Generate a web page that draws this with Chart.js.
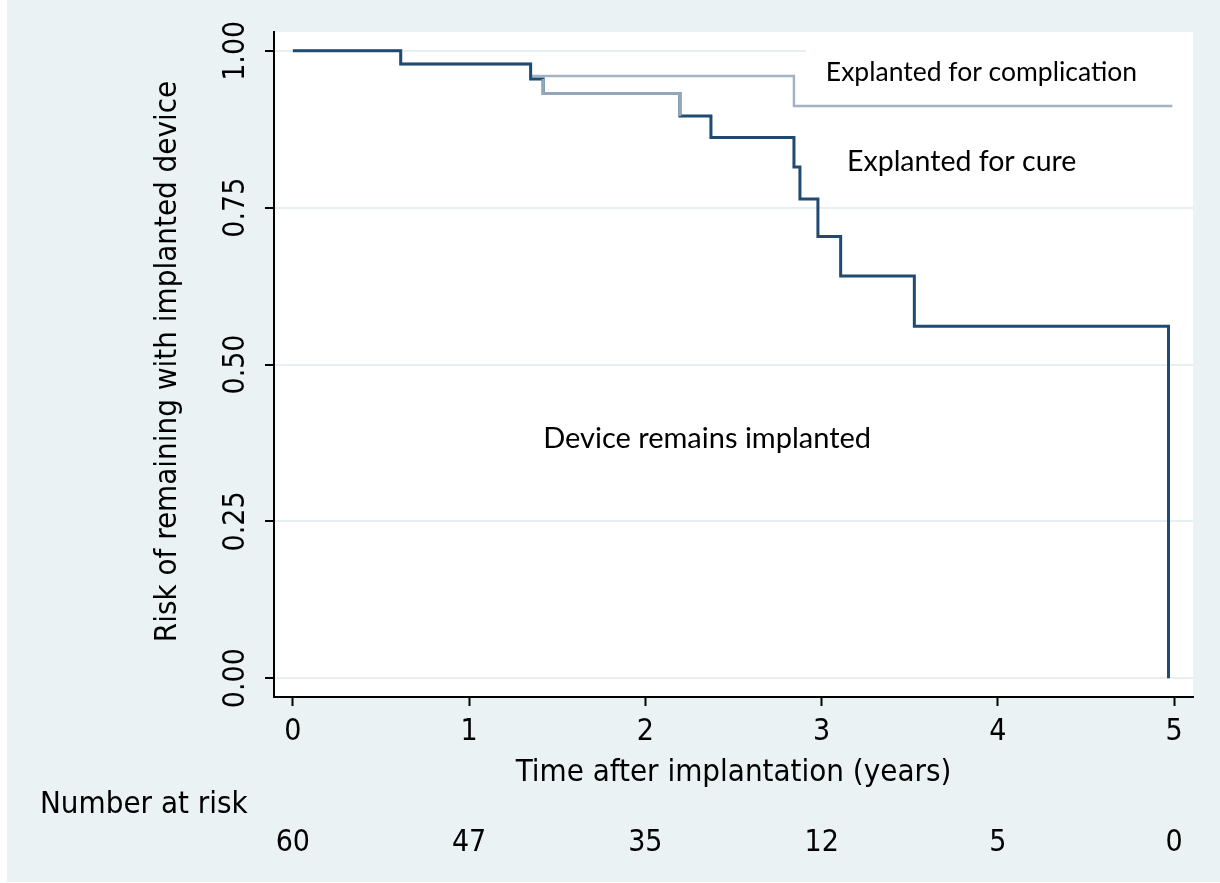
<!DOCTYPE html>
<html>
<head>
<meta charset="utf-8">
<script src="https://cdn.jsdelivr.net/npm/chart.js@4.4.1/dist/chart.umd.min.js"></script>
<style>
  body { margin: 0; background: #fff; }
  canvas { display: block; }
</style>
</head>
<body>
<canvas id="km" width="1220" height="883"></canvas>
<script>
// step times (years) and values
const remainTimes = [0, 0.612, 1.349, 1.420, 2.196, 2.372, 2.843, 2.877, 2.979, 3.108, 3.526, 4.968]
const remainValues = [1, 0.979, 0.955, 0.932, 0.896, 0.862, 0.815, 0.764, 0.704, 0.641, 0.561, 0]

// lighter boundary between the two explant groups (only visible 1.42 - 2.2)
const cureTimes = [1.420, 1.420, 2.196]
const cureValues = [0.955, 0.932, 0.896]

const complTimes = [0, 0.612, 1.349, 2.843, 4.990]
const complValues = [1, 0.979, 0.960, 0.912, 0.912]

const xTicks = [0, 1, 2, 3, 4, 5]
const yTicks = [0, 0.25, 0.5, 0.75, 1]
const riskCounts = [60, 47, 35, 12, 5, 0]

const axisFont = "'DejaVu Sans Condensed', 'DejaVu Sans', sans-serif"
const noteFont = "Lato, 'Open Sans', sans-serif"

function toPoints(times, values) {
    return times.map((t, i) => ({ x: t, y: values[i] }))
}

const decor = {
    id: "decor",
    beforeDraw(chart) {
        const { ctx, chartArea: a } = chart
        ctx.save()
        ctx.fillStyle = "#fff"
        ctx.fillRect(0, 0, chart.width, chart.height)
        ctx.fillStyle = "#eaf2f3"
        ctx.fillRect(7, 0, chart.width - 7, 882)
        ctx.fillStyle = "#fff"
        ctx.fillRect(a.left, a.top, a.right - a.left, a.bottom - a.top)
        ctx.restore()
    },
    beforeDatasetsDraw(chart) {
        // white box behind the top label hides the grid line there
        const { ctx, chartArea: a } = chart
        ctx.save()
        ctx.fillStyle = "#fff"
        ctx.fillRect(806, a.top + 1, a.right - 806, 62)
        ctx.restore()
    },
    afterDraw(chart) {
        const { ctx, scales: { x, y }, chartArea: a } = chart
        ctx.save()
        ctx.fillStyle = "#000"
        ctx.textAlign = "center"
        ctx.textBaseline = "middle"

        ctx.font = "30px " + axisFont
        xTicks.forEach(v => ctx.fillText(String(v), x.getPixelForValue(v), 732))
        riskCounts.forEach((n, i) => ctx.fillText(String(n), x.getPixelForValue(xTicks[i]), 843))

        yTicks.forEach(v => {
            ctx.save()
            ctx.translate(236, y.getPixelForValue(v))
            ctx.rotate(-Math.PI / 2)
            ctx.fillText(v.toFixed(2), 0, 0)
            ctx.restore()
        })

        ctx.font = "31px " + axisFont
        ctx.fillText("Time after implantation (years)", (a.left + a.right) / 2, 773)
        ctx.save()
        ctx.translate(168, (a.top + a.bottom) / 2 - 3)
        ctx.rotate(-Math.PI / 2)
        ctx.fillText("Risk of remaining with implanted device", 0, 0)
        ctx.restore()

        ctx.textAlign = "left"
        ctx.fillText("Number at risk", 40, 805)

        // region labels
        ctx.font = "26.5px " + noteFont
        ctx.fillText("Explanted for complication", x.getPixelForValue(3.024), y.getPixelForValue(0.965))
        ctx.font = "28.5px " + noteFont
        ctx.fillText("Explanted for cure", x.getPixelForValue(3.144), y.getPixelForValue(0.823))
        ctx.font = "29px " + noteFont
        ctx.fillText("Device remains implanted", x.getPixelForValue(1.42), y.getPixelForValue(0.382))
        ctx.restore()
    }
}

let ctx = document.getElementById("km").getContext("2d")

new Chart(ctx, {
    type: "line",
    data: {
        datasets: [{
            label: "boundary",
            data: toPoints(cureTimes, cureValues),
            borderColor: "#93a6ba",
            borderWidth: 3
        }, {
            label: "Device remains implanted",
            data: toPoints(remainTimes, remainValues),
            borderColor: "#1f4a73",
            borderWidth: 3
        }, {
            label: "Explanted for complication",
            data: toPoints(complTimes, complValues),
            borderColor: "#a2b2c3",
            borderWidth: 2.5
        }]
    },
    options: {
        responsive: false,
        animation: false,
        datasets: {
            line: { stepped: "before", pointRadius: 0, fill: false, tension: 0 }
        },
        layout: { padding: { left: 0, top: 32, right: 27, bottom: 0 } },
        plugins: { legend: { display: false }, tooltip: { enabled: false } },
        scales: {
            x: {
                type: "linear",
                min: -0.107,
                max: 5.107,
                afterBuildTicks: s => { s.ticks = xTicks.map(v => ({ value: v })) },
                afterFit: s => { s.height = 186 },
                ticks: { display: false },
                grid: { drawOnChartArea: false, drawTicks: true, tickLength: 9, tickWidth: 2, tickColor: "#000" },
                border: { display: true, color: "#000", width: 2 }
            },
            y: {
                min: -0.030,
                max: 1.030,
                afterBuildTicks: s => { s.ticks = yTicks.map(v => ({ value: v })) },
                afterFit: s => { s.width = 274 },
                ticks: { display: false },
                grid: { color: "#e6eff1", lineWidth: 2, tickLength: 9, tickWidth: 2, tickColor: "#000" },
                border: { display: true, color: "#000", width: 2 }
            }
        }
    },
    plugins: [decor]
})
</script>
</body>
</html>
